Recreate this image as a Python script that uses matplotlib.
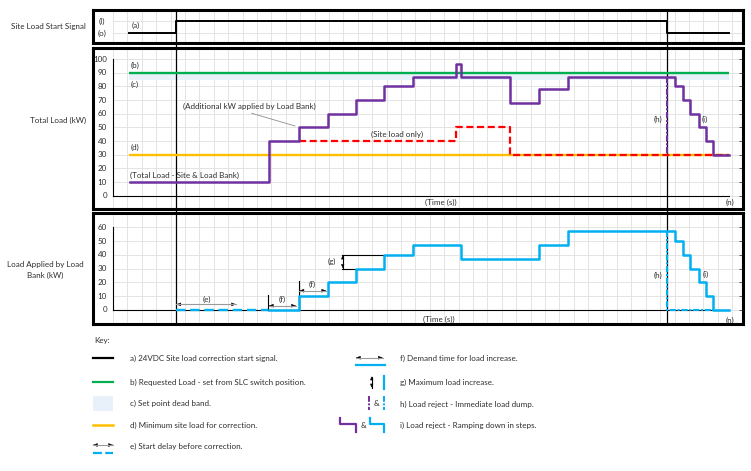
import numpy as np
import matplotlib
matplotlib.use("Agg")
import matplotlib.pyplot as plt
from matplotlib.patches import Rectangle

plt.rcParams['font.family'] = ['Lato', 'DejaVu Sans']

# ---- chart data (time in s, load in kW) ----
line_start = 1.1
start_time = 4.4
reject_time = 38.5
end_time = 42.8

signal_t = [1.1, 4.4, 38.5, 42.8]
signal_v = [0, 1, 0, 0]

requested_kw = 90
deadband_kw = (85, 90)
min_site_kw = 30

total_t = [1.2, 10.8, 12.9, 14.9, 16.9, 18.8, 20.8, 23.8, 24.2, 27.6, 29.6,
           31.6, 39.0, 39.6, 40.1, 40.7, 41.2, 41.7, 42.8]
total_kw = [10, 40, 50, 60, 70, 80, 87, 96, 87, 68, 78,
            87, 80, 70, 60, 50, 40, 30, 30]

site_t = [12.9, 23.8, 27.6, 42.8]
site_kw = [40, 50, 30, 30]

bank_delay_t = [4.4, 10.8]
bank_t = [10.8, 12.9, 14.9, 16.9, 18.8, 20.8, 24.2, 29.6, 31.6,
          39.0, 39.6, 40.1, 40.7, 41.2, 41.7, 42.8]
bank_kw = [0, 10, 20, 30, 40, 47, 37, 47, 57,
           50, 40, 30, 20, 10, 0, 0]
dump_end = 41.7

total_ticks = list(range(0, 101, 10))
bank_ticks = list(range(0, 61, 10))

key_left = ["a) 24VDC Site load correction start signal.",
            "b) Requested Load - set from SLC switch position.",
            "c) Set point dead band.",
            "d) Minimum site load for correction.",
            "e) Start delay before correction."]
key_right = ["f) Demand time for load increase.",
             "g) Maximum load increase.",
             "h) Load reject - Immediate load dump.",
             "i) Load reject - Ramping down in steps."]

# ---- colours / styles ----
PURPLE = '#7030A0'
GREEN = '#00B050'
YELLOW = '#FFC000'
RED = '#FF0000'
BLUE = '#00B0F0'
BAND = '#E8F0F9'
GRID = '#E4E4E4'
TXT = dict(fontsize=5.8, color='#2E2E2E')

W, H = 751, 471
PX = 14.4   # pixels per second
X0 = 113    # pixel column of t = 0
fig = plt.figure(figsize=(W / 100, H / 100), dpi=100)
grid_t = np.arange(0, 43.6, 1.0)


def panel(top, bottom, zero_px, px_per_unit, ext_top=0, ext_bot=0):
    ax = fig.add_axes([93 / W, 1 - bottom / H, 650 / W, (bottom - top) / H])
    ax.set_xlim((93 - X0) / PX, (743 - X0) / PX)
    ax.set_ylim((zero_px - bottom) / px_per_unit, (zero_px - top) / px_per_unit)
    ax.set_xticks([])
    ax.set_yticks([])
    for s in ax.spines.values():
        s.set_linewidth(2.2)
        s.set_zorder(10)
    y0, y1 = ax.get_ylim()
    ax.vlines(grid_t, y0, y1, color=GRID, lw=0.7, zorder=0)
    h = bottom - top
    for t in (start_time, reject_time):
        ax.axvline(t, -ext_bot / h, 1 + ext_top / h, color='k', lw=0.9,
                   zorder=3, clip_on=False)
    return ax


def head(ax, tip, frm, hl=2.8, hw=1.1):
    ax.annotate('', xy=tip, xytext=frm,
                arrowprops=dict(arrowstyle='-|>,head_length=%s,head_width=%s' % (hl, hw),
                                color='k', lw=0.3, shrinkA=0, shrinkB=0,
                                mutation_scale=1))


def dbl_arrow(ax, p0, p1, shaft='#9A9A9A', eps=0.05, hl=2.8, hw=1.1):
    ax.plot([p0[0], p1[0]], [p0[1], p1[1]], color=shaft, lw=0.8, zorder=6)
    dx, dy = p1[0] - p0[0], p1[1] - p0[1]
    n = np.hypot(dx, dy)
    ux, uy = dx / n * eps, dy / n * eps
    head(ax, p0, (p0[0] + ux, p0[1] + uy), hl, hw)
    head(ax, p1, (p1[0] - ux, p1[1] - uy), hl, hw)


# ---- top panel: start signal ----
ax_sig = panel(10, 43, 32.5, 11.8, ext_bot=5)
ax_sig.hlines([0, 1], 0, 43.75, color=GRID, lw=0.7, zorder=0)
ax_sig.step(signal_t, signal_v, where='post', color='k', lw=1.4, zorder=4)
ax_sig.text(-0.78, 0.92, '(I)', ha='center', va='center', **TXT)
ax_sig.text(-0.78, -0.07, '(o)', ha='center', va='center', **TXT)
ax_sig.text(1.58, 0.6, '(a)', ha='center', va='center', **TXT)

# ---- middle panel: total load ----
ax_tot = panel(48, 209, 195.7, 1.367, ext_bot=4)
ax_tot.hlines(total_ticks, 0, 43.75, color=GRID, lw=0.7, zorder=0)
ax_tot.fill_between([line_start, end_time], *deadband_kw, color=BAND, lw=0, zorder=1)
ax_tot.hlines(requested_kw, line_start, end_time, color=GREEN, lw=1.7, zorder=4)
ax_tot.hlines(min_site_kw, line_start, end_time, color=YELLOW, lw=1.7, zorder=4)
ax_tot.step(site_t, site_kw, where='post', color=RED, lw=1.6,
            ls=(0, (3.2, 1.6)), zorder=5)
ax_tot.step(total_t, total_kw, where='post', color=PURPLE, lw=1.8, zorder=6)
ax_tot.plot([reject_time, reject_time], [total_kw[11], min_site_kw], color=PURPLE,
            lw=1.5, ls=(0, (3, 0.8, 1, 0.8)), zorder=6)
ax_tot.plot([0, 0], [0, 100], color='k', lw=0.8, zorder=4)
ax_tot.plot([0, end_time], [0, 0], color='k', lw=0.8, zorder=4)
ax_tot.plot(np.full(len(total_ticks), 43.6), total_ticks, ls='none', marker='_',
            ms=3, mew=0.6, color='#444444', zorder=4)
for v in total_ticks:
    ax_tot.text(-0.42, v, str(v), ha='right', va='center', **TXT)
ax_tot.text(1.25, 95.6, '(b)', ha='left', va='center', **TXT)
ax_tot.text(1.25, 81.5, '(c)', ha='left', va='center', **TXT)
ax_tot.text(1.25, 35.1, '(d)', ha='left', va='center', **TXT)
ax_tot.text(1.18, 14.8, '(Total Load - Site & Load Bank)', ha='left', va='center', **TXT)
ax_tot.text(9.5, 65.6, '(Additional kW applied by Load Bank)', ha='center', va='center', **TXT)
ax_tot.plot([9.63, 12.64], [60.3, 51.0], color='#8C8C8C', lw=0.6, zorder=5)
ax_tot.text(19.76, 45.1, '(Site load only)', ha='center', va='center', **TXT)
ax_tot.text(37.85, 55.9, '(h)', ha='center', va='center', **TXT)
ax_tot.text(41.1, 55.9, '(i)', ha='center', va='center', **TXT)
ax_tot.text(22.74, -4.8, '(Time (s))', ha='center', va='center', **TXT)
ax_tot.text(42.85, -4.8, '(n)', ha='center', va='center', **TXT)

# ---- bottom panel: load bank ----
ax_bank = panel(213, 324, 310, 1.378)
ax_bank.hlines(bank_ticks, 0, 43.75, color=GRID, lw=0.7, zorder=0)
ax_bank.plot([0, 0], [0, 60], color='k', lw=0.8, zorder=4)
ax_bank.plot([0, end_time], [0, 0], color='k', lw=0.8, zorder=4)
ax_bank.plot(np.full(len(bank_ticks), 43.6), bank_ticks, ls='none', marker='_',
             ms=3, mew=0.6, color='#444444', zorder=4)
ax_bank.plot(bank_delay_t, [0, 0], color=BLUE, lw=1.7, ls=(0, (4, 2)), zorder=5)
ax_bank.step(bank_t, bank_kw, where='post', color=BLUE, lw=1.8, zorder=6)
ax_bank.plot([reject_time, reject_time, dump_end], [bank_kw[8], 0, 0], color=BLUE,
             lw=1.5, ls=(0, (3, 0.8, 1, 0.8)), zorder=6)
for v in bank_ticks:
    ax_bank.text(-0.42, v, str(v), ha='right', va='center', **TXT)

# (e) start delay
dbl_arrow(ax_bank, (start_time, 4.1), (8.54, 4.1))
ax_bank.text(6.5, 7.6, '(e)', ha='center', va='center', **TXT)
# (f) demand times
ax_bank.plot([10.75, 10.75], [0, 10.9], color='k', lw=0.8, zorder=5)
dbl_arrow(ax_bank, (10.83, 3.1), (12.7, 3.1))
ax_bank.text(11.76, 7.6, '(f)', ha='center', va='center', **TXT)
ax_bank.plot([12.9, 12.9], [0, 21], color='k', lw=0.8, zorder=5)
dbl_arrow(ax_bank, (12.95, 14.0), (14.8, 14.0))
ax_bank.text(13.84, 18.3, '(f)', ha='center', va='center', **TXT)
# (g) max increase
ax_bank.plot([15.88, 18.8], [40, 40], color='k', lw=0.8, zorder=5)
ax_bank.plot([15.88, 16.9], [30, 30], color='k', lw=0.8, zorder=5)
dbl_arrow(ax_bank, (15.95, 30.5), (15.95, 39.5), shaft='k', eps=0.3, hl=2.2, hw=1.0)
ax_bank.text(15.5, 35, '(g)', ha='right', va='center', **TXT)
ax_bank.text(37.85, 24.9, '(h)', ha='center', va='center', **TXT)
ax_bank.text(41.16, 26.1, '(i)', ha='center', va='center', **TXT)
ax_bank.text(22.6, -6.5, '(Time (s))', ha='center', va='center', **TXT)
ax_bank.text(42.85, -7.3, '(n)', ha='center', va='center', **TXT)

# ---- row titles ----
fig.text(86 / W, 1 - 27 / H, 'Site Load Start Signal', ha='right', va='center', **TXT)
fig.text(86 / W, 1 - 120.7 / H, 'Total Load (kW)', ha='right', va='center', **TXT)
fig.text(45.5 / W, 1 - 270 / H, 'Load Applied by Load\nBank (kW)', ha='center',
         va='center', multialignment='center', linespacing=1.6, **TXT)

# ---- key ----
kx = fig.add_axes([0, 0, 1, (H - 330) / H])
kx.set_xlim(0, W)
kx.set_ylim(H, 330)
kx.axis('off')
kx.text(94, 340.7, 'Key:', ha='left', va='center', **TXT)

left_y = [358.3, 382.3, 403.7, 425, 446.7]
for s, y in zip(key_left, left_y):
    kx.text(130, y, s, ha='left', va='center', **TXT)
kx.plot([93, 113], [358.3, 358.3], color='k', lw=1.6)
kx.plot([93, 113], [382.3, 382.3], color=GREEN, lw=1.6)
kx.add_patch(Rectangle((93, 396), 20, 15, color=BAND, lw=0))
kx.plot([93, 113], [425, 425], color=YELLOW, lw=1.8)
dbl_arrow(kx, (93, 445), (113, 445), eps=1)
kx.plot([93, 113], [453.3, 453.3], color=BLUE, lw=1.6, ls=(0, (4, 1.5)))

right_y = [358, 382, 404, 425]
for s, y in zip(key_right, right_y):
    kx.text(400, y, s, ha='left', va='center', **TXT)
dbl_arrow(kx, (356, 357.7), (382.7, 357.7), eps=1)
kx.plot([356, 385], [365, 365], color=BLUE, lw=1.6)
dbl_arrow(kx, (371.7, 376.5), (371.7, 387.5), shaft='k', eps=1, hl=2.2, hw=1.0)
kx.plot([384, 384], [376, 389], color=BLUE, lw=1.6)
kx.plot([369.3, 369.3], [395.7, 410], color=PURPLE, lw=1.4, ls=(0, (3, 0.8, 1, 0.8)))
kx.text(376.7, 404, '&', ha='center', va='center', **TXT)
kx.plot([384, 384], [395.7, 410], color=BLUE, lw=1.4, ls=(0, (3, 0.8, 1, 0.8)))
kx.plot([340.3, 340.3, 356, 356], [418.3, 424, 424, 431.7], color=PURPLE, lw=1.6)
kx.text(363.3, 425, '&', ha='center', va='center', **TXT)
kx.plot([370, 370, 384, 384], [418.3, 424, 424, 431.7], color=BLUE, lw=1.6)

fig.savefig('out.png', dpi=100)
